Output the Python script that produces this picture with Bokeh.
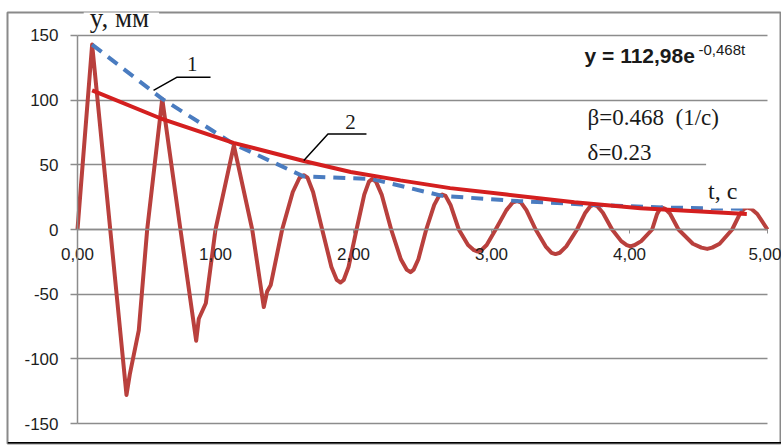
from bokeh.plotting import figure
from bokeh.models import (LinearAxis, FixedTicker, CustomJSTickFormatter, Grid, Label, Range1d)
from bokeh.embed import file_html
from bokeh.resources import INLINE

# ---- data ----
t_osc = [0.00, 0.106, 0.355, 0.379, 0.444, 0.505, 0.614, 0.746, 0.86, 0.879, 0.93, 1.00,
         1.133, 1.266, 1.35, 1.374, 1.40, 1.483,
         1.56, 1.609, 1.64, 1.667, 1.707, 1.773,
         1.84, 1.879, 1.906, 1.929, 1.964, 2.022,
         2.078, 2.112, 2.135, 2.163, 2.204, 2.273,
         2.343, 2.385, 2.413, 2.436, 2.47, 2.527,
         2.585, 2.62, 2.643, 2.667, 2.703, 2.763,
         2.83, 2.873, 2.90, 2.926, 2.965, 3.03,
         3.108, 3.155, 3.186, 3.213, 3.253, 3.32,
         3.392, 3.435, 3.464, 3.495, 3.542, 3.62,
         3.68, 3.716, 3.74, 3.767, 3.807, 3.874,
         3.94, 3.98, 4.007, 4.038, 4.085, 4.164,
         4.20, 4.221, 4.235, 4.259, 4.295, 4.355,
         4.459, 4.521, 4.563, 4.599, 4.653, 4.744,
         4.80, 4.831, 4.853, 4.882, 4.926, 5.00]
y_osc = [0, 143, -128, -112, -78, 0, 101, 0, -86, -69, -57, 0,
         65, 0, -60, -48, -43, 0,
         29, 40, 42, 40, 29, 0,
         -29, -39, -41, -39, -29, 0,
         27, 37, 39, 37, 27, 0,
         -23, -31, -33, -31, -23, 0,
         19, 26, 27, 26, 19, 0,
         -12, -16, -17, -16, -12, 0,
         15, 21, 22, 21, 15, 0,
         -13, -18, -19, -18, -13, 0,
         13, 18, 19, 18, 13, 0,
         -9, -12, -13, -12, -9, 0,
         12, 16, 17, 16, 12, 0,
         -11, -14, -15, -14, -11, 0,
         12, 16, 17, 16, 12, 0]

t_env = [0.106, 0.614, 1.133, 1.64, 2.135, 2.643, 3.186, 3.74, 4.24, 4.82]
y_env = [143, 101, 66, 41, 39, 26, 22, 19, 17, 16]

t_fit = [0.106, 0.6, 1.13, 1.64, 1.98, 2.34, 2.7, 3.11, 3.6, 4.08, 4.85]
y_fit = [107.5, 86, 67, 53, 44.5, 38, 32, 27, 21, 16.5, 12]

x_ticks = [0, 1, 2, 3, 4, 5]
y_ticks = [-150, -100, -50, 0, 50, 100, 150]

# annotation leaders (data coords)
lead1_t = [0.551, 0.722, 0.964]
lead1_y = [107.5, 117.8, 117.8]
lead2_t = [1.640, 1.815, 2.094]
lead2_y = [53.4, 73.8, 73.8]

GRID = "#8c8c8c"
Y0, Y1 = -165.46, 167.78

p = figure(width=781, height=446, output_backend="svg", toolbar_location=None,
           x_range=Range1d(-0.5072, 5.1014), y_range=Range1d(Y0, Y1),
           x_axis_location=None, y_axis_location=None,
           min_border_left=7, min_border_right=0, min_border_top=12, min_border_bottom=3)
p.center = [r for r in p.center if not isinstance(r, Grid)]
p.outline_line_color = "#8a8a8a"
p.outline_line_width = 2
p.background_fill_color = "white"
p.border_fill_color = "white"

if "cross_bounds" in Grid.properties():
    g = Grid(dimension=1, ticker=FixedTicker(ticks=y_ticks), cross_bounds=(0, 5),
             grid_line_color=GRID, grid_line_width=1.5)
    p.add_layout(g, "center")
else:
    p.segment(x0=[x_ticks[0]] * len(y_ticks), x1=[x_ticks[-1]] * len(y_ticks),
              y0=y_ticks, y1=y_ticks, line_color=GRID, line_width=1.5)

yaxis = LinearAxis(fixed_location=0, ticker=FixedTicker(ticks=y_ticks), bounds=(-150, 150),
                   formatter=CustomJSTickFormatter(code="return tick.toString()"),
                   axis_line_color=GRID, axis_line_width=1.5,
                   major_tick_out=7, major_tick_in=0, major_tick_line_color=GRID,
                   major_tick_line_width=1.5, minor_tick_out=0, minor_tick_in=0,
                   major_label_standoff=12, major_label_text_font="Liberation Sans",
                   major_label_text_font_size="17px", major_label_text_color="#1e1e1e")
p.add_layout(yaxis, "left")

xaxis = LinearAxis(fixed_location=0, ticker=FixedTicker(ticks=x_ticks), bounds=(0, 5),
                   formatter=CustomJSTickFormatter(code="return tick.toFixed(2).replace('.', ',')"),
                   axis_line_color=GRID, axis_line_width=1.5,
                   major_tick_out=4, major_tick_in=0, major_tick_line_color=GRID,
                   minor_tick_out=0, minor_tick_in=0,
                   major_label_standoff=14, major_label_text_font="Liberation Sans",
                   major_label_text_font_size="17px", major_label_text_color="#1e1e1e")
p.add_layout(xaxis, "below")

# bottom frame rule (thick black), drawn at the lower edge of the frame
bax = LinearAxis(fixed_location=Y0, ticker=FixedTicker(ticks=[]),
                 axis_line_color="black", axis_line_width=3,
                 major_tick_out=0, major_tick_in=0, minor_tick_out=0, minor_tick_in=0,
                 major_label_text_font_size="0px", major_label_standoff=0)
p.add_layout(bax, "below")

p.line(t_osc, y_osc, line_color="#b9403d", line_width=4, line_join="round")
p.line(t_env, y_env, line_color="#4a7cc0", line_width=4, line_dash="12 8")
p.line(t_fit, y_fit, line_color="#d41f1f", line_width=4)
p.line(lead1_t, lead1_y, line_color="black", line_width=1.5)
p.line(lead2_t, lead2_y, line_color="black", line_width=1.5)

SERIF = "Liberation Serif"
HAS_PAD = "padding" in Label.properties()

def lab(x, y, text, font, size, pad=None, **kw):
    if pad is not None and HAS_PAD:
        kw["padding"] = pad
    l = Label(x=x, y=y, text=text, text_font=font, text_font_size=size,
              text_baseline="middle", text_color="#1a1a1a", **kw)
    p.add_layout(l)
    return l

lab(0.045, 163.9, "y, мм", SERIF, "27px", background_fill_color="white",
    pad=dict(top=0, right=10, bottom=0, left=6))
lab(0.831, 128.3, "1", SERIF, "21px", text_align="center")
lab(1.978, 83.5, "2", SERIF, "21px", text_align="center")
lab(3.674, 134.5, "y = 112,98e", "Liberation Sans", "21px", text_font_style="bold")
lab(4.50, 139.2, "-0,468t", "Liberation Sans", "15px")
lab(3.696, 86.6, "β=0.468\u00a0\u00a0(1/c)", SERIF, "23px")
lab(3.696, 59.5, "δ=0.23", SERIF, "23px")
lab(4.555, 34.8, "t, c", SERIF, "24px", background_fill_color="white",
    pad=dict(top=18, right=40, bottom=4, left=2))

open("out.html", "w").write(file_html(p, INLINE))
